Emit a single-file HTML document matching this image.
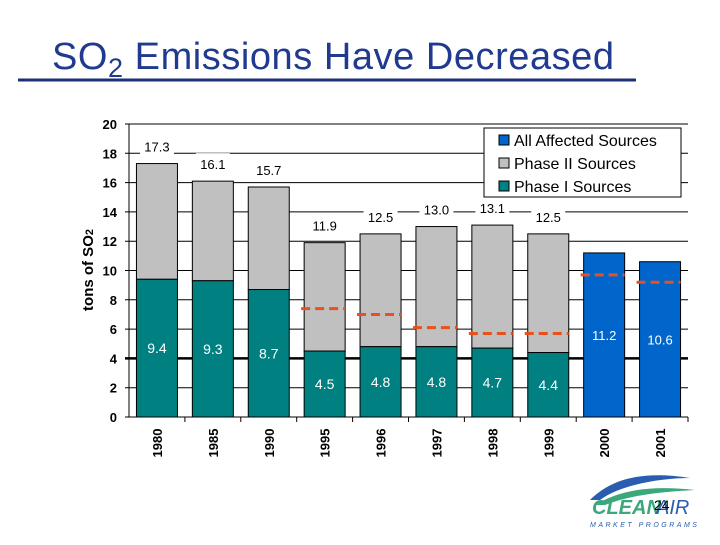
<!DOCTYPE html>
<html><head><meta charset="utf-8"><style>
body{margin:0;background:#fff;width:720px;height:540px;overflow:hidden;font-family:"Liberation Sans",sans-serif}
</style></head><body>
<svg width="720" height="540" xmlns="http://www.w3.org/2000/svg">
<text x="52" y="69" font-size="38" fill="#1f3a8f" font-family="Liberation Sans, sans-serif" textLength="562">SO<tspan font-size="27" dy="8">2</tspan><tspan dy="-8"> Emissions Have Decreased</tspan></text>
<line x1="18" y1="80" x2="636" y2="80" stroke="#1c2f78" stroke-width="3"/>
<g id="grid"></g>
<g id="bars"></g>
<g id="labels"></g>
<text transform="translate(93,270) rotate(-90)" text-anchor="middle" font-size="15" font-weight="bold" fill="#000">tons of SO<tspan font-size="11">2</tspan></text>
<g>
<rect x="484" y="128" width="197" height="69" fill="#fff" stroke="#000"/>
<rect x="499" y="135" width="10" height="10" fill="#0066cc" stroke="#000"/>
<text x="514" y="146" font-size="16">All Affected Sources</text>
<rect x="499" y="158" width="10" height="10" fill="#c0c0c0" stroke="#000"/>
<text x="514" y="169" font-size="16">Phase II Sources</text>
<rect x="499" y="181" width="10" height="10" fill="#008080" stroke="#000"/>
<text x="514" y="192" font-size="16">Phase I Sources</text>
</g>
<g>
<path d="M590 500 C610 480,640 470,690 478 C660 478,620 485,600 500Z" fill="#2a5db0"/>
<path d="M595 505 C620 490,650 485,695 490 C660 492,630 495,605 505Z" fill="#3aa87a"/>
<text x="592" y="514" font-size="20" font-weight="bold" font-style="italic" fill="#3aa87a">CLEAN</text>
<text x="656" y="514" font-size="20" font-style="italic" fill="#2a5db0">AIR</text>
<text x="654" y="510" font-size="14" fill="#000">24</text>
<text x="590" y="527" font-size="7" letter-spacing="2.5" font-style="italic" fill="#2a5db0">MARKET  PROGRAMS</text>
</g>
</svg>
<script>
const years=["1980","1985","1990","1995","1996","1997","1998","1999","2000","2001"];
const phase1=[9.4,9.3,8.7,4.5,4.8,4.8,4.7,4.4,null,null];
const totals=[17.3,16.1,15.7,11.9,12.5,13.0,13.1,12.5,11.2,10.6];
const allSources=[null,null,null,null,null,null,null,null,11.2,10.6];
const allowances=[null,null,null,7.4,7.0,6.1,5.7,5.7,9.7,9.2];
const yTicks=[0,2,4,6,8,10,12,14,16,18,20];
const NS="http://www.w3.org/2000/svg";
const x0=129,x1=688,y0=417,y1=124,ymax=20;
const cw=(x1-x0)/years.length,bw=41;
const Y=v=>y0-(v/ymax)*(y0-y1);
const X=i=>x0+cw*i+cw/2;
function mk(t,a,p){const e=document.createElementNS(NS,t);for(const k in a)e.setAttribute(k,a[k]);p.appendChild(e);return e;}
const g=document.getElementById('grid'),b=document.getElementById('bars'),l=document.getElementById('labels');
yTicks.forEach(t=>{
 const ln=mk('line',{x1:x0-4,x2:x1,y1:Y(t),y2:Y(t),stroke:'#000','stroke-width':t===4?2.5:1},g);
 
 
 const tx=mk('text',{x:x0-12,y:Y(t)+5,'text-anchor':'end','font-size':13,'font-weight':'bold'},g);
 tx.textContent=t;
 
 
});
mk('line',{x1:x0,x2:x0,y1:y1,y2:y0,stroke:'#000'},g);
years.forEach((yr,i)=>{
 const cx=X(i),bx=cx-bw/2;
 mk('line',{x1:x0+cw*(i+1),x2:x0+cw*(i+1),y1:y0,y2:y0+5,stroke:'#000'},g);
 const yl=mk('text',{transform:`translate(${cx+5},${y0+26}) rotate(-90)`,'text-anchor':'middle','font-size':13,'font-weight':'bold'},l);
 yl.textContent=yr;
 
 
 if(allSources[i]!=null){
  const r=mk('rect',{x:bx,y:Y(allSources[i]),width:bw,height:y0-Y(allSources[i]),fill:'#0066cc',stroke:'#000'},b);
  
  
  const t=mk('text',{x:cx,y:Y(allSources[i]/2)+5,'text-anchor':'middle','font-size':13,fill:'#fff'},l);
  t.textContent=allSources[i].toFixed(1);
  
  
 } else {
  const r2=mk('rect',{x:bx,y:Y(totals[i]),width:bw,height:Y(phase1[i])-Y(totals[i]),fill:'#c0c0c0',stroke:'#000'},b);
  
  
  const r1=mk('rect',{x:bx,y:Y(phase1[i]),width:bw,height:y0-Y(phase1[i]),fill:'#008080',stroke:'#000'},b);
  
  
  const t=mk('text',{x:cx,y:Y(phase1[i]/2)+5,'text-anchor':'middle','font-size':14,fill:'#fff'},l);
  t.textContent=phase1[i].toFixed(1);
  
  
  const tw=28;
  mk('rect',{x:cx-tw/2-3,y:Y(totals[i])-28,width:tw+6,height:19,fill:'#fff'},l);
  const tt=mk('text',{x:cx,y:Y(totals[i])-12,'text-anchor':'middle','font-size':13,fill:'#000'},l);
  tt.textContent=totals[i].toFixed(1);
  
  
 }
 if(allowances[i]!=null){
  const d=mk('line',{x1:bx-3,x2:bx+bw,y1:Y(allowances[i]),y2:Y(allowances[i]),stroke:'#e8501e','stroke-width':3,'stroke-dasharray':'9,5'},l);
  
  
 }
});
</script>
</body></html>
